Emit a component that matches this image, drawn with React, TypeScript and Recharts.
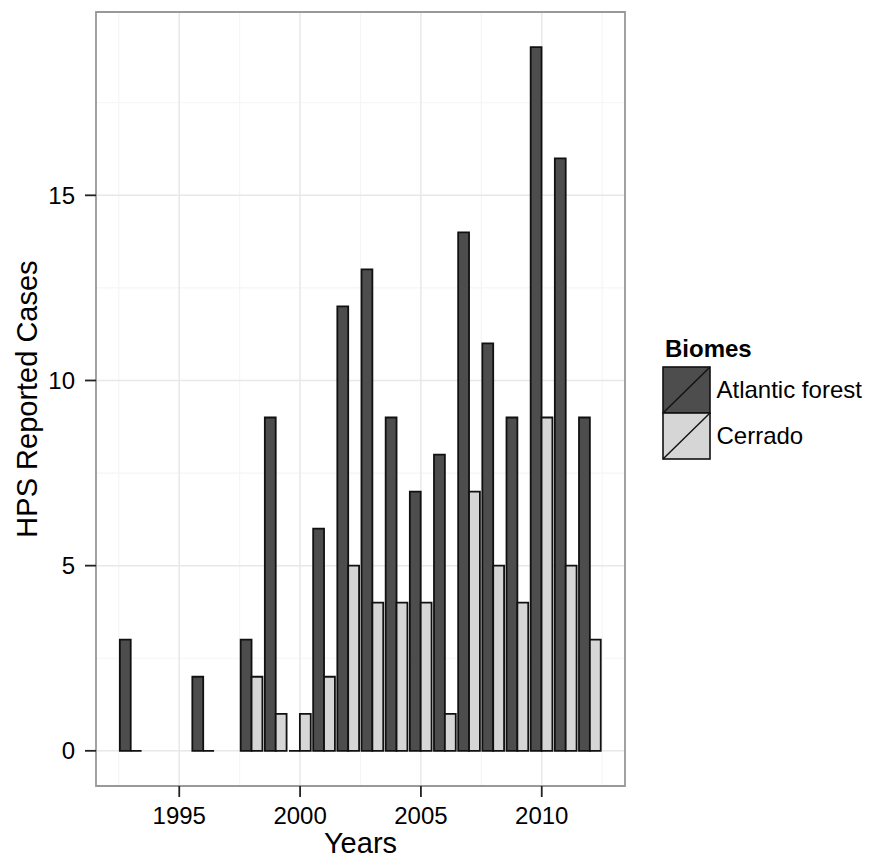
import React from 'react';
import {
  BarChart,
  Bar,
  XAxis,
  YAxis,
  CartesianGrid,
  ReferenceArea,
} from 'recharts';

// ---------- data ----------
const years = [1993, 1994, 1995, 1996, 1997, 1998, 1999, 2000, 2001, 2002, 2003, 2004, 2005, 2006, 2007, 2008, 2009, 2010, 2011, 2012];
const atlanticForest: (number | null)[] = [3, null, null, 2, null, 3, 9, 0, 6, 12, 13, 9, 7, 8, 14, 11, 9, 19, 16, 9];
const cerrado: (number | null)[] = [0, null, null, 0, null, 2, 1, 1, 2, 5, 4, 4, 4, 1, 7, 5, 4, 9, 5, 3];

const xTicks = [1995, 2000, 2005, 2010];
const xMinorTicks = [1992.5, 1997.5, 2002.5, 2007.5, 2012.5];
const yTicks = [0, 5, 10, 15];
const yMinorTicks = [2.5, 7.5, 12.5, 17.5];
const seriesNames = ['Atlantic forest', 'Cerrado'];
const legendTitle = 'Biomes';
const xTitle = 'Years';
const yTitle = 'HPS Reported Cases';

const rows = years.map((year, i) => ({ year, atlantic: atlanticForest[i], cerrado: cerrado[i] }));

// ---------- layout / style ----------
const W = 875;
const H = 861;
const MARGIN = { top: 12, right: 250, bottom: 0, left: 0 };
const Y_AXIS_W = 96;
const X_AXIS_H = 75;
const PLOT_W = W - MARGIN.right - MARGIN.left - Y_AXIS_W;
const X_DOMAIN: [number, number] = [1991.555, 2013.445];
const Y_DOMAIN: [number, number] = [-0.95, 19.95];
const SPAN = X_DOMAIN[1] - X_DOMAIN[0];
const PAD = (PLOT_W * (1 - years.length / SPAN)) / 2;
const BAR_SIZE = (PLOT_W / SPAN) * 0.45;

const FONT = '"Liberation Sans", Arial, Helvetica, sans-serif';
const DARK = '#4d4d4d';
const LIGHT = '#d6d6d6';
const OUTLINE = '#111111';

const makeShape = (key: 'atlantic' | 'cerrado') => (props: any) => {
  const { x, y, width, height, payload, fill } = props;
  if (!payload || payload[key] == null) return <g />;
  return (
    <path
      d={`M${x},${y}h${width}v${height}h${-width}Z`}
      fill={fill}
      stroke={OUTLINE}
      strokeWidth={1.8}
    />
  );
};

const XTitle = (props: any) => {
  const vb = props.viewBox || {};
  const cx = vb.x + vb.width / 2;
  return (
    <text x={cx} y={853} textAnchor="middle" fontSize={29} fontFamily={FONT} fill="#000">
      {xTitle}
    </text>
  );
};

const YTitle = (props: any) => {
  const vb = props.viewBox || {};
  const cy = vb.y + vb.height / 2;
  const bx = 37;
  return (
    <text
      x={bx}
      y={cy}
      transform={`rotate(-90 ${bx} ${cy})`}
      textAnchor="middle"
      fontSize={29}
      fontFamily={FONT}
      fill="#000"
    >
      {yTitle}
    </text>
  );
};

const LegendBox = () => (
  <svg
    width={215}
    height={140}
    style={{ position: 'absolute', left: 655, top: 330, overflow: 'visible' }}
  >
    <text x={10} y={26.7} fontSize={24} fontWeight="bold" fontFamily={FONT} fill="#000">
      {legendTitle}
    </text>
    {[DARK, LIGHT].map((c, i) => {
      const top = 37 + i * 46;
      return (
        <g key={i}>
          <rect x={8} y={top} width={47} height={46} fill={c} stroke={OUTLINE} strokeWidth={1.6} />
          <line x1={8} y1={top + 46} x2={55} y2={top} stroke={OUTLINE} strokeWidth={1.4} />
          <text x={61.5} y={top + 31.3} fontSize={24} fontFamily={FONT} fill="#000">
            {seriesNames[i]}
          </text>
        </g>
      );
    })}
  </svg>
);

export default function App() {
  return (
    <div style={{ position: 'absolute', left: 0, top: 0, width: W, height: H, background: '#fff', fontFamily: FONT }}>
      <BarChart
        width={W}
        height={H}
        data={rows}
        margin={MARGIN}
        barGap={0}
        barCategoryGap="5%"
      >
        <XAxis
          xAxisId="n"
          dataKey="year"
          type="number"
          domain={X_DOMAIN}
          ticks={xTicks}
          allowDataOverflow
          height={X_AXIS_H}
          tickSize={11}
          tickMargin={10}
          axisLine={false}
          tickLine={{ stroke: '#222', strokeWidth: 1.8 }}
          tick={{ fontSize: 24, fill: '#000', fontFamily: FONT }}
          interval={0}
          label={<XTitle />}
        />
        <XAxis
          xAxisId="c"
          dataKey="year"
          type="category"
          hide
          height={0}
          padding={{ left: PAD, right: PAD }}
        />
        <XAxis
          xAxisId="m"
          dataKey="year"
          type="number"
          domain={X_DOMAIN}
          ticks={xMinorTicks}
          allowDataOverflow
          hide
          height={0}
        />
        <YAxis
          yAxisId="v"
          type="number"
          domain={Y_DOMAIN}
          ticks={yTicks}
          allowDataOverflow
          width={Y_AXIS_W}
          tickSize={11}
          tickMargin={10}
          axisLine={false}
          tickLine={{ stroke: '#222', strokeWidth: 1.8 }}
          tick={{ fontSize: 24, fill: '#000', fontFamily: FONT }}
          interval={0}
          label={<YTitle />}
        />
        <YAxis
          yAxisId="m"
          type="number"
          domain={Y_DOMAIN}
          ticks={yMinorTicks}
          allowDataOverflow
          hide
          width={0}
        />
        <CartesianGrid xAxisId="m" yAxisId="m" stroke="#f5f5f5" strokeWidth={1.2} />
        <CartesianGrid xAxisId="n" yAxisId="v" stroke="#e8e8e8" strokeWidth={1.5} />
        <Bar
          xAxisId="c"
          yAxisId="v"
          dataKey="atlantic"
          name={seriesNames[0]}
          fill={DARK}
          barSize={BAR_SIZE}
          shape={makeShape('atlantic')}
          isAnimationActive={false}
        />
        <Bar
          xAxisId="c"
          yAxisId="v"
          dataKey="cerrado"
          name={seriesNames[1]}
          fill={LIGHT}
          barSize={BAR_SIZE}
          shape={makeShape('cerrado')}
          isAnimationActive={false}
        />
        <ReferenceArea
          xAxisId="n"
          yAxisId="v"
          x1={X_DOMAIN[0]}
          x2={X_DOMAIN[1]}
          y1={Y_DOMAIN[0]}
          y2={Y_DOMAIN[1]}
          fill="none"
          fillOpacity={0}
          stroke="#999999"
          strokeWidth={1.8}
          ifOverflow="visible"
        />
      </BarChart>
      <LegendBox />
    </div>
  );
}
